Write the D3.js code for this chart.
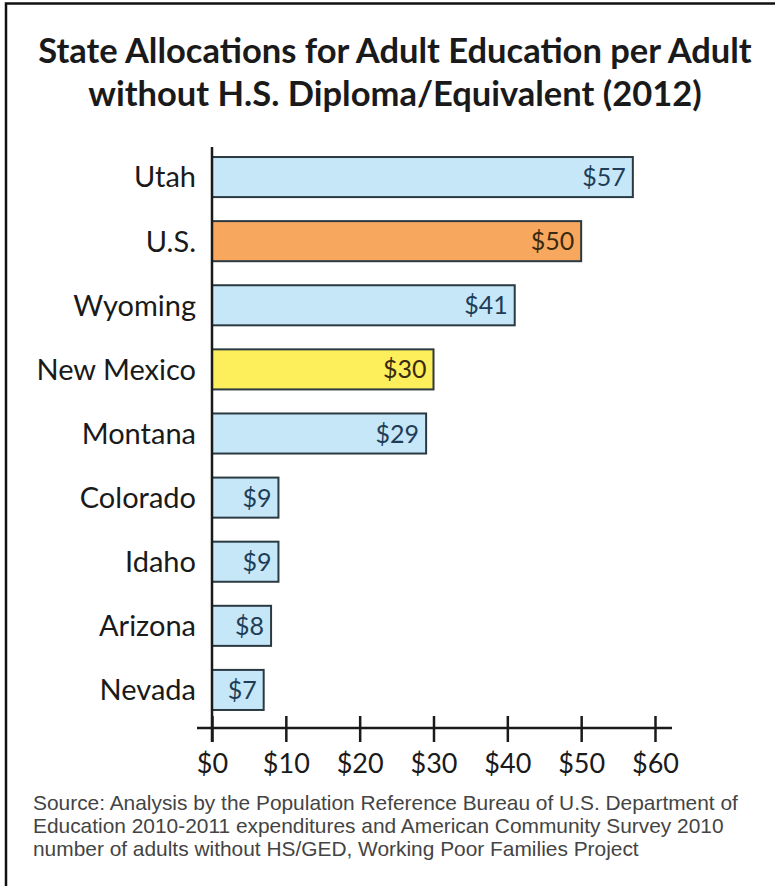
<!DOCTYPE html>
<html>
<head>
<meta charset="utf-8">
<script src="https://cdn.jsdelivr.net/npm/d3@7"></script>
<style>
  html, body { margin: 0; padding: 0; background: #fff; }
  svg { display: block; }
</style>
</head>
<body>
<svg id="chart" width="775" height="886"></svg>
<script>
// Allocation per adult without a high-school diploma, 2012 (dollars)
const categories = ["Utah", "U.S.", "Wyoming", "New Mexico", "Montana", "Colorado", "Idaho", "Arizona", "Nevada"];
const values = [57, 50, 41, 30, 29, 9, 9, 8, 7];
const barColors = ["#c6e7f8", "#f7a85e", "#c6e7f8", "#fdee5b", "#c6e7f8", "#c6e7f8", "#c6e7f8", "#c6e7f8", "#c6e7f8"];
const tickValues = [0, 10, 20, 30, 40, 50, 60];
const titleLines = ["State Allocations for Adult Education per Adult", "without H.S. Diploma/Equivalent (2012)"];
const sourceLines = [
  "Source: Analysis by the Population Reference Bureau of U.S. Department of",
  "Education 2010-2011 expenditures and American Community Survey 2010",
  "number of adults without HS/GED, Working Poor Families Project"
];

const svg = d3.select("#chart");
const W = 775, H = 886;
const fmt = v => "$" + v;
const labelFont = "Lato, 'Open Sans', sans-serif";

svg.append("rect").attr("width", W).attr("height", H).attr("fill", "#fff");

// frame edges (top and left)
svg.append("path")
  .attr("d", "M6,886 L6,3.5 L775,3.5")
  .attr("fill", "none").attr("stroke", "#111").attr("stroke-width", 2.5);

// title
const title = svg.append("g");
titleLines.forEach((t, i) => {
  title.append("text")
    .attr("x", 395).attr("y", 63 + i * 43)
    .attr("text-anchor", "middle")
    .attr("font-family", labelFont)
    .attr("font-weight", 700)
    .attr("font-size", 34.5)
    .attr("fill", "#1a1a1a")
    .text(t);
});

const x = d3.scaleLinear().domain([0, 60]).range([212, 655]);
const y = d3.scaleBand().domain(categories).range([145, 722]).paddingInner(0.375).paddingOuter(0.1875);

const rows = svg.append("g").selectAll("g").data(categories).join("g");

rows.append("rect")
  .attr("x", x(0))
  .attr("y", d => y(d))
  .attr("width", (d, i) => x(values[i]) - x(0))
  .attr("height", y.bandwidth())
  .attr("fill", (d, i) => barColors[i])
  .attr("stroke", "#2b3a42")
  .attr("stroke-width", 2);

rows.append("text")
  .attr("x", (d, i) => x(values[i]) - 7)
  .attr("y", d => y(d) + y.bandwidth() / 2)
  .attr("dy", "0.36em")
  .attr("text-anchor", "end")
  .attr("font-family", labelFont)
  .attr("font-size", 25)
  .attr("fill", (d, i) => barColors[i] === "#c6e7f8" ? "#1f3d57" : "#3a2a10")
  .text((d, i) => fmt(values[i]));

// category labels
rows.append("text")
  .attr("x", 196)
  .attr("y", d => y(d) + y.bandwidth() / 2)
  .attr("dy", "0.36em")
  .attr("text-anchor", "end")
  .attr("font-family", labelFont)
  .attr("font-size", 29)
  .attr("fill", "#1a1a1a")
  .text(d => d);

// vertical axis line
svg.append("line")
  .attr("x1", x(0)).attr("x2", x(0))
  .attr("y1", 147).attr("y2", 742)
  .attr("stroke", "#1a1a1a").attr("stroke-width", 2.5);

// horizontal axis
const axisY = 728;
const axis = d3.axisBottom(x).tickValues(tickValues).tickFormat(fmt).tickSize(14).tickPadding(0);
const ag = svg.append("g").attr("transform", `translate(0,${axisY})`).call(axis);
ag.select(".domain").remove();
ag.append("line")
  .attr("x1", 197).attr("x2", 672)
  .attr("stroke", "#1a1a1a").attr("stroke-width", 2.5);
ag.selectAll(".tick line")
  .attr("y1", -12).attr("y2", 14)
  .attr("stroke", "#1a1a1a").attr("stroke-width", 2.5);
ag.selectAll(".tick text")
  .attr("y", 45)
  .attr("dy", null)
  .attr("font-family", labelFont)
  .attr("font-size", 27)
  .attr("fill", "#1a1a1a");

// source note
const src = svg.append("g");
sourceLines.forEach((t, i) => {
  src.append("text")
    .attr("x", 33).attr("y", 810 + i * 23)
    .attr("font-family", "'Liberation Sans', Arial, sans-serif")
    .attr("font-size", 20.9)
    .attr("fill", "#444")
    .text(t);
});
</script>
</body>
</html>
